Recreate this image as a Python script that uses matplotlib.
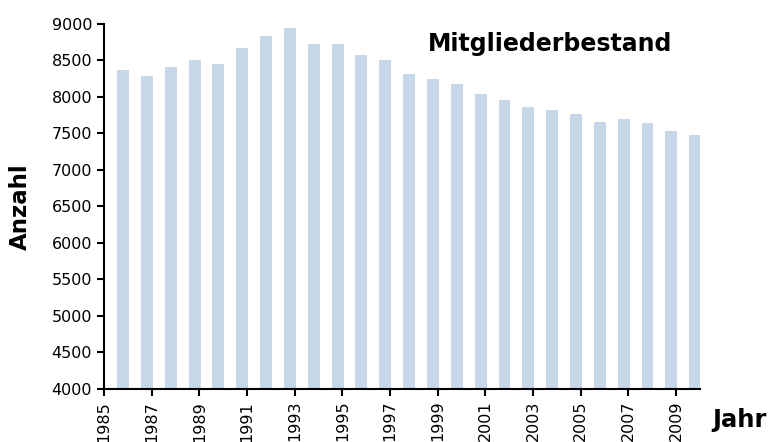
import numpy as np
import matplotlib
matplotlib.use("Agg")
import matplotlib.pyplot as plt

# Mitgliederbestand je Jahr
years = list(range(1986, 2011))
members = [8370, 8290, 8410, 8505, 8450, 8670, 8835, 8945, 8725, 8725,
           8575, 8505, 8315, 8245, 8180, 8040, 7960, 7865, 7820, 7765,
           7660, 7700, 7645, 7535, 7480]
tick_years = list(range(1985, 2010, 2))

plt.rcParams["font.family"] = "DejaVu Sans"

fig = plt.figure(figsize=(7.72, 4.42), dpi=100)
ax = fig.add_axes([0.1347, 0.12, 0.772, 0.826])

ax.bar(np.array(years) - 0.2, members, width=0.5, color="#c6d7e8")

ax.set_xlim(1985, 2010)
ax.set_ylim(4000, 9000)
ax.set_yticks(range(4000, 9001, 500))
ax.set_xticks(tick_years)
ax.set_xticklabels([str(y) for y in tick_years], rotation=90)
ax.tick_params(axis="both", labelsize=11.5, length=5, width=1.5, direction="out")

for s in ["top", "right"]:
    ax.spines[s].set_visible(False)
for s in ["left", "bottom"]:
    ax.spines[s].set_linewidth(1.5)

ax.set_ylabel("Anzahl", fontsize=16.5, fontweight="bold", labelpad=14)
ax.text(1.02, -0.085, "Jahr", transform=ax.transAxes, fontsize=17.5,
        fontweight="bold", ha="left", va="center")
ax.text(0.748, 0.945, "Mitgliederbestand", transform=ax.transAxes, fontsize=17,
        fontweight="bold", ha="center", va="center")

fig.savefig("out.png", dpi=100)
